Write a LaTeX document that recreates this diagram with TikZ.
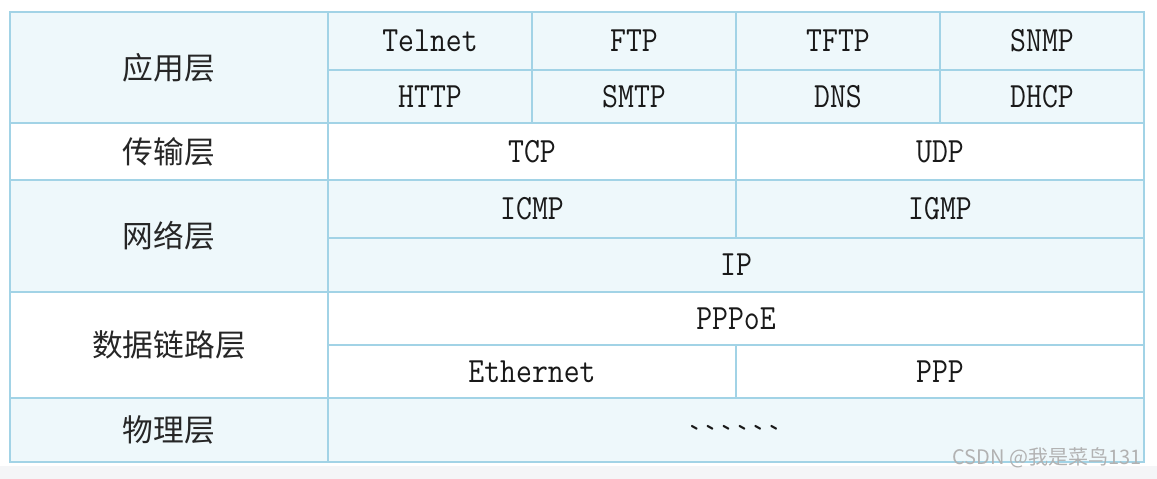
\documentclass[tikz,border=0pt]{standalone}
\usepackage{fontspec}
\setmonofont{Latin Modern Mono}[FakeStretch=0.87]
\newfontfamily\cjkfont{Noto Sans CJK SC}
\usetikzlibrary{positioning}
\definecolor{tabline}{HTML}{A2D3E6}
\definecolor{tabfill}{HTML}{EEF8FB}
\definecolor{pagegray}{HTML}{F4F5F7}
\definecolor{wmgray}{HTML}{B2B2B2}
\tikzstyle{grid} = [draw=tabline, line width=1.1pt]
\tikzstyle{layer} = [font=\cjkfont\fontsize{17.5}{20}\selectfont, text=black!85, inner sep=0pt]
\tikzstyle{proto} = [font=\ttfamily\fontsize{20.2}{23}\selectfont, text=black!90, inner sep=0pt]

\begin{document}
\begin{tikzpicture}[x=0.02cm, y=-0.02cm]
\useasboundingbox (0,0) rectangle (1157,479);
\fill[white] (0,0) rectangle (1157,466);
\fill[pagegray] (0,466) rectangle (1157,479);

% row shading
\foreach \top/\bot/\col in {12/123/tabfill, 123/180/white, 180/292/tabfill, 292/398/white, 398/462/tabfill}
    \fill[\col] (10,\top) rectangle (1144,\bot);

% layer column
\foreach \top/\bot/\val/\name in {12/123/应用层/app, 123/180/传输层/trans, 180/292/网络层/net, 292/398/数据链路层/link, 398/462/物理层/phys} {
    \draw[grid] (10,\top) rectangle (328,\bot);
    \node[layer] (\name) at (169,{(\top+\bot)/2}) {\val};
}

% application layer
\foreach \x/\val/\name in {328/Telnet/telnet, 532/FTP/ftp, 736/TFTP/tftp, 940/SNMP/snmp} {
    \draw[grid] (\x,12) rectangle (\x+204,70);
    \node[proto] (\name) at (\x+102,41) {\val};
}
\foreach \x/\val/\name in {328/HTTP/http, 532/SMTP/smtp, 736/DNS/dns, 940/DHCP/dhcp} {
    \draw[grid] (\x,70) rectangle (\x+204,123);
    \node[proto] (\name) at (\x+102,96.5) {\val};
}

% transport layer
\foreach \x/\val/\name in {328/TCP/tcp, 736/UDP/udp} {
    \draw[grid] (\x,123) rectangle (\x+408,180);
    \node[proto] (\name) at (\x+204,151.5) {\val};
}

% network layer
\foreach \x/\val/\name in {328/ICMP/icmp, 736/IGMP/igmp} {
    \draw[grid] (\x,180) rectangle (\x+408,238);
    \node[proto] (\name) at (\x+204,209) {\val};
}
\draw[grid] (328,238) rectangle (1144,292);
\node[proto] (ip) at (736,265) {IP};

% data link layer
\draw[grid] (328,292) rectangle (1144,345);
\node[proto] (pppoe) at (736,318.5) {PPPoE};
\foreach \x/\val/\name in {328/Ethernet/eth, 736/PPP/ppp} {
    \draw[grid] (\x,345) rectangle (\x+408,398);
    \node[proto] (\name) at (\x+204,371.5) {\val};
}

% physical layer
\draw[grid] (328,398) rectangle (1144,462);
\node[proto] (dots) at (734,436) {\symbol{96}\symbol{96}\symbol{96}\symbol{96}\symbol{96}\symbol{96}};

\node[font=\cjkfont\fontsize{11.4}{13}\selectfont, text=wmgray, anchor=east, inner sep=0pt] (mark) at (1142,458) {CSDN @我是菜鸟131};
\end{tikzpicture}
\end{document}
